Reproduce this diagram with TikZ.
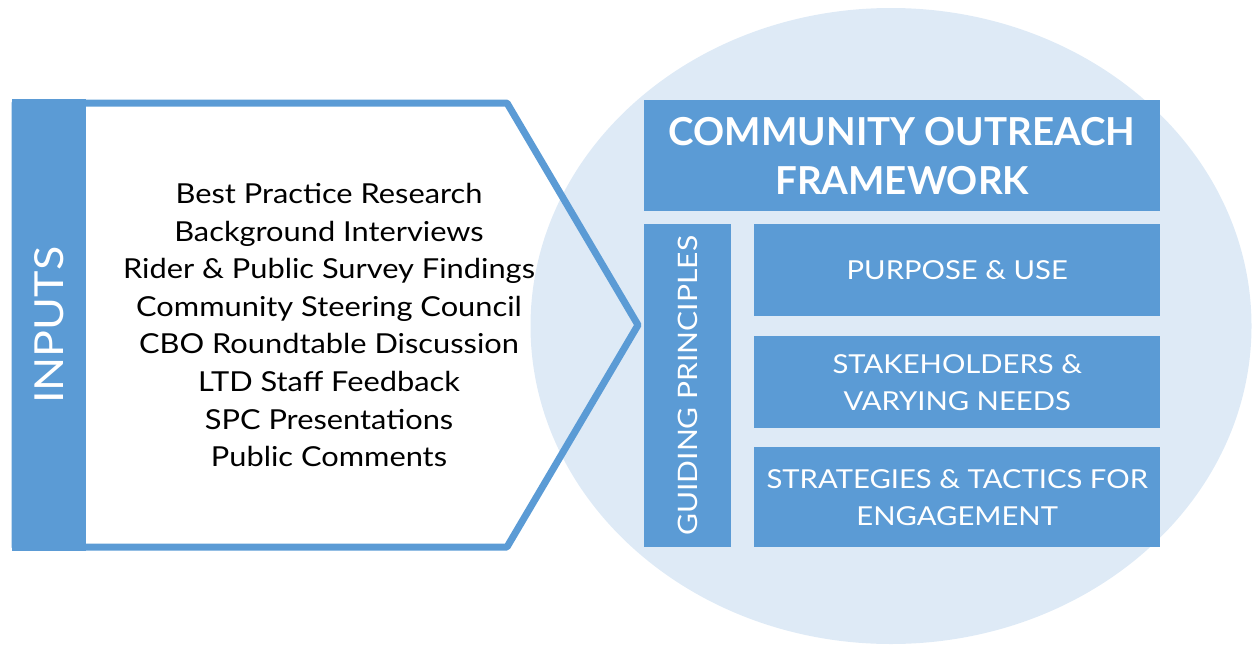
\documentclass[tikz,border=0pt]{standalone}
\usepackage{fontspec}
\setmainfont{Lato}
\newfontfamily\widefont{Lato}[FakeStretch=1.12]
\usetikzlibrary{shapes.geometric}
\definecolor{accent}{HTML}{5B9BD5}
\definecolor{pale}{HTML}{DEEAF6}
\tikzset{
  bluebox/.style={fill=accent, draw=none, text=white, align=center, inner sep=0pt, anchor=north west},
  boxtext/.style={font=\widefont\fontsize{26.1}{37}\selectfont},
}
\begin{document}
\begin{tikzpicture}[x=1pt,y=-1pt]
\useasboundingbox (0,0) rectangle (1252,648);
% background ellipse
\node[ellipse, fill=pale, draw=none, minimum width=721pt, minimum height=636pt, inner sep=0pt] (circ) at (891,326) {};
% inputs pentagon
\coordinate (p1) at (15,103);
\coordinate (p2) at (507,103);
\coordinate (p3) at (638,325);
\coordinate (p4) at (507,547);
\coordinate (p5) at (15,547);
\draw[accent, line width=7pt, line join=round] (p1) -- (p2) -- (p3) -- (p4) -- (p5) -- cycle;
\node[fill=accent, draw=none, inner sep=0pt, minimum width=74pt, minimum height=452pt, anchor=north west] (band) at (12,99) {};
\node[rotate=90, text=white, font=\widefont\fontsize{40}{40}\selectfont] (inputs) at (band.center) {INPUTS};
\node[align=center, text=black, font=\widefont\fontsize{27.5}{37.6}\selectfont] (list) at (329,325) {Best Practice Research\\Background Interviews\\Rider \& Public Survey Findings\\Community Steering Council\\CBO Roundtable Discussion\\LTD Staff Feedback\\SPC Presentations\\Public Comments};
% framework boxes
\node[bluebox, minimum width=516pt, minimum height=111pt] (head) at (644,100) {};
\node[text=white, align=center, font=\fontsize{38.5}{49}\selectfont\bfseries] (headtext) at (head.center) {COMMUNITY OUTREACH\\FRAMEWORK};
\node[bluebox, minimum width=87pt, minimum height=323pt] (guide) at (644,224) {};
\node[rotate=90, text=white, font=\widefont\fontsize{26.8}{27}\selectfont] (guidetext) at (guide.center) {GUIDING PRINCIPLES};
\node[bluebox, minimum width=406pt, minimum height=92pt] (purpose) at (754,224) {};
\node[text=white, boxtext] (purposetext) at (purpose.center) {PURPOSE \& USE};
\node[bluebox, minimum width=406pt, minimum height=92pt] (stake) at (754,336) {};
\node[text=white, boxtext, align=center] (staketext) at (stake.center) {STAKEHOLDERS \&\\VARYING NEEDS};
\node[bluebox, minimum width=406pt, minimum height=100pt] (strat) at (754,447) {};
\node[text=white, boxtext, align=center] (strattext) at (strat.center) {STRATEGIES \& TACTICS FOR\\ENGAGEMENT};
\end{tikzpicture}
\end{document}
